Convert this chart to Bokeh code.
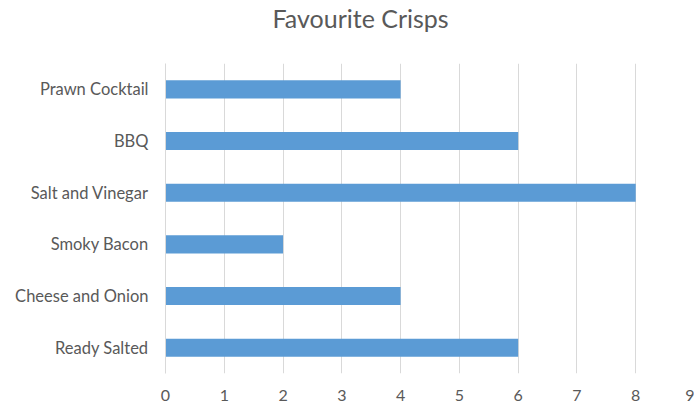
from bokeh.plotting import figure
from bokeh.models import Range1d, FixedTicker, Title
from bokeh.embed import file_html
from bokeh.resources import INLINE

categories = ["Ready Salted", "Cheese and Onion", "Smoky Bacon", "Salt and Vinegar", "BBQ", "Prawn Cocktail"]
counts = [6, 4, 2, 8, 6, 4]
x_ticks = [0, 1, 2, 3, 4, 5, 6, 7, 8, 9]

FONT = "Lato"
TEXT = "#595959"
GRID = "#D9D9D9"

p = figure(width=694, height=407, y_range=categories, x_range=Range1d(0, 9),
           output_backend="svg", toolbar_location=None, title="Favourite Crisps",
           min_border_left=165, min_border_right=0, min_border_top=62, min_border_bottom=34)
p.outline_line_color = None
p.hbar(y=categories, right=counts, left=0, height=0.35, color="#5B9BD5", line_color=None)

p.title.align = "left"
p.title.offset = 107
p.title.vertical_align = "bottom"
p.title.text_font = FONT
p.title.text_font_size = "25px"
p.title.text_font_style = "normal"
p.title.text_color = TEXT
p.title.standoff = 0

# blank spacer panel between the title and the plot area
spacer = Title(text=" ", text_font_size="1px", standoff=28, text_color="#FFFFFF")
p.add_layout(spacer, "above")

p.xaxis.ticker = FixedTicker(ticks=x_ticks)
p.xaxis.axis_line_color = None
p.xaxis.major_tick_line_color = None
p.xaxis.minor_tick_line_color = None
p.xaxis.major_label_text_color = TEXT
p.xaxis.major_label_text_font = FONT
p.xaxis.major_label_text_font_size = "16px"
p.xaxis.major_label_standoff = 10

p.yaxis.axis_line_color = GRID
p.yaxis.major_tick_line_color = None
p.yaxis.minor_tick_line_color = None
p.yaxis.major_label_text_color = TEXT
p.yaxis.major_label_text_font = FONT
p.yaxis.major_label_text_font_size = "16.5px"
p.yaxis.major_label_standoff = 11

p.xgrid.grid_line_color = GRID
p.ygrid.grid_line_color = None

open("out.html", "w").write(file_html(p, INLINE))
